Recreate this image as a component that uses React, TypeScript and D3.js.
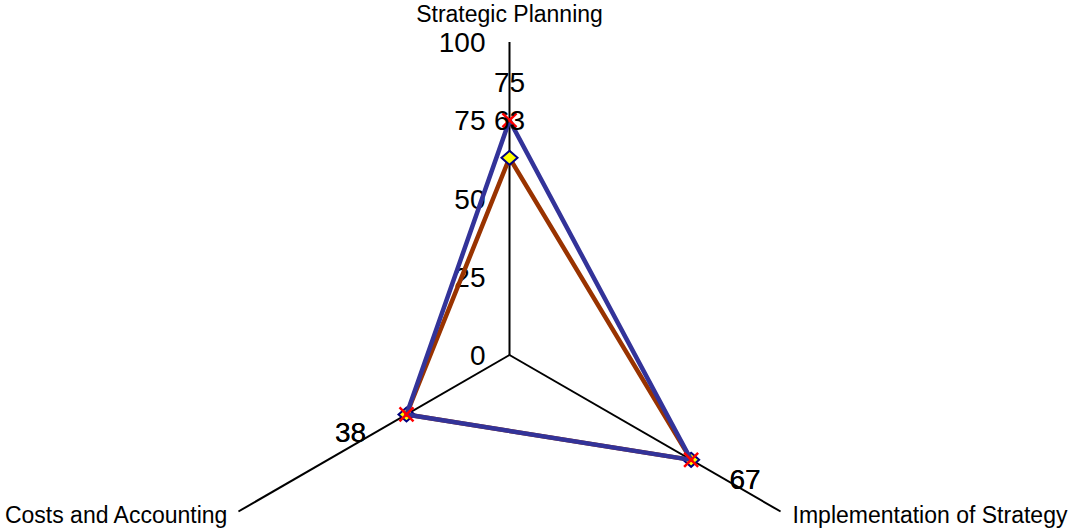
import React from 'react';
import * as d3 from 'd3';

const WIDTH = 1070;
const HEIGHT = 528;

// axes go clockwise from the top
const categories = ['Strategic Planning', 'Implementation of Strategy', 'Costs and Accounting'];
const seriesBrown = [63, 67, 38];
const seriesBlue = [75, 67, 38];
const tickValues = [0, 25, 50, 75, 100];

const cx = 509.5;
const cy = 355;
const R = 313;

// label placement per axis (Excel style offsets)
const labelOffsets = [
  [0, -28],
  [54, 29],
  [-56, 28],
];
const catPos = [
  { dx: 0, dy: -20, anchor: 'middle' },
  { dx: 12, dy: 11.5, anchor: 'start' },
  { dx: -11, dy: 11.5, anchor: 'end' },
];

const FONT = '"Liberation Sans", Arial, sans-serif';

const App = () => {
  const r = d3.scaleLinear().domain([0, 100]).range([0, R]);
  const angle = (i: number) => (i * 2 * Math.PI) / categories.length;
  const pt = (i: number, v: number) => {
    const [x, y] = d3.pointRadial(angle(i), r(v));
    return [cx + x, cy + y] as [number, number];
  };

  const line = d3.line<[number, number]>().curve(d3.curveLinearClosed);
  const brownPts = seriesBrown.map((v, i) => pt(i, v));
  const bluePts = seriesBlue.map((v, i) => pt(i, v));

  const diamond = (x: number, y: number) =>
    `M${x},${y - 7}L${x + 8},${y}L${x},${y + 7}L${x - 8},${y}Z`;

  return (
    <div style={{ position: 'absolute', left: 0, top: 0 }}>
      <svg width={WIDTH} height={HEIGHT} style={{ display: 'block', background: '#fff' }}>
        {/* axes */}
        {categories.map((c, i) => {
          const [x, y] = pt(i, 100);
          return <line key={c} x1={cx} y1={cy} x2={x} y2={y} stroke="#000" strokeWidth={2} />;
        })}
        {/* tick labels */}
        {tickValues.map((t) => (
          <text
            key={t}
            x={cx - 24}
            y={cy - r(t) + 10}
            textAnchor="end"
            fontFamily={FONT}
            fontSize={28}
          >
            {t}
          </text>
        ))}
        {/* category labels */}
        {categories.map((c, i) => {
          const [x, y] = pt(i, 100);
          const p = catPos[i];
          return (
            <text
              key={c}
              x={x + p.dx}
              y={y + p.dy}
              textAnchor={p.anchor as any}
              fontFamily={FONT}
              fontSize={23}
            >
              {c}
            </text>
          );
        })}

        {/* brown series */}
        <path d={line(brownPts) || ''} fill="none" stroke="#993300" strokeWidth={4.5} strokeLinejoin="round" />
        {brownPts.map(([x, y], i) => (
          <path key={`d-${i}`} d={diamond(x, y)} fill="#ffff00" stroke="#000080" strokeWidth={2} />
        ))}

        {/* blue series */}
        <path d={line(bluePts) || ''} fill="none" stroke="#333399" strokeWidth={4.5} strokeLinejoin="round" />
        {bluePts.map(([x, y], i) => (
          <g key={`x-${i}`} stroke="#ff0000" strokeWidth={2.5}>
            <line x1={x - 7} y1={y - 7} x2={x + 7} y2={y + 7} />
            <line x1={x - 7} y1={y + 7} x2={x + 7} y2={y - 7} />
          </g>
        ))}

        {/* data labels */}
        {[brownPts, bluePts].map((pts, s) =>
          pts.map(([x, y], i) => (
            <text
              key={`l-${s}-${i}`}
              x={x + labelOffsets[i][0]}
              y={y + labelOffsets[i][1]}
              textAnchor="middle"
              fontFamily={FONT}
              fontSize={28}
            >
              {(s === 0 ? seriesBrown : seriesBlue)[i]}
            </text>
          ))
        )}
      </svg>
    </div>
  );
};

export default App;
